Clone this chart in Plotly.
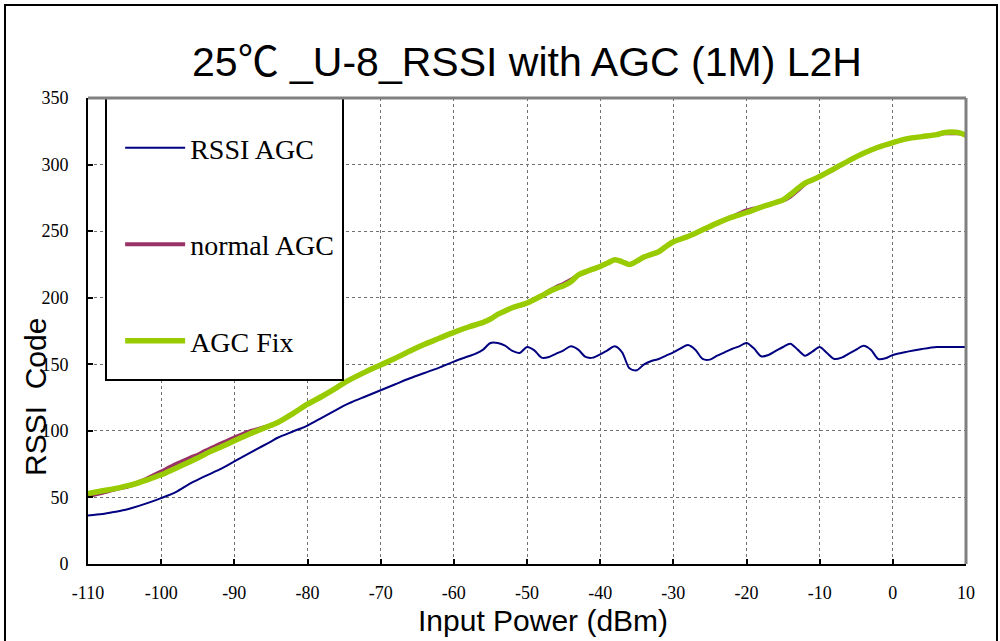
import plotly.graph_objects as go

# ---------------- data ----------------
rssi_x = [-110, -108, -106, -105, -104, -102, -100, -98, -96, -94, -92, -90, -88, -86, -85, -84, -82, -80,
          -78, -76, -75, -74, -72, -70, -68, -66, -64, -62, -60, -58, -57, -56, -55, -54, -53, -52, -51,
          -50, -49, -48, -47, -46, -45, -44, -43, -42, -41, -40, -39, -38, -37, -36, -35, -34, -33, -32,
          -31, -30, -29, -28, -27, -26, -25, -24, -23, -22, -21, -20, -19, -18, -17, -16, -15, -14, -13,
          -12, -11, -10, -9, -8, -7, -6, -5, -4, -3, -2, -1, 0, 2, 4, 6, 8, 10]
rssi_agc = [36.5, 37.5, 39.5, 40.5, 42, 45.5, 49.5, 54, 60.5, 66, 71, 77, 83, 89, 92, 95, 99.5, 104,
            110, 116, 119, 121.5, 126, 130.5, 135, 139.5, 143.5, 147.5, 152, 156, 158, 161, 166, 166, 164, 160, 158.5,
            163, 160.5, 155, 155.5, 158, 160.5, 163.5, 161, 155.5, 155, 157.5, 160.5, 163.5, 159, 147, 145.5, 150, 152.5, 154,
            156.5, 159, 162, 164.5, 161, 154, 153.5, 156.5, 159, 161.5, 163.5, 166, 162, 156, 157, 160, 163, 165.5, 161,
            156.5, 159.5, 163, 158.5, 154, 155, 158, 161, 164, 161, 154, 154.5, 157, 159.5, 161.5, 163, 163, 163]

agc_x = [-110, -108, -106, -105, -104, -102, -100, -98, -96, -95, -94, -92, -90, -88, -86, -84, -82, -80,
         -78, -76, -75, -74, -72, -70, -68, -66, -64, -62, -60, -58, -56, -55, -54, -53, -52, -50, -48, -47,
         -46, -45, -44, -43, -42, -41, -40, -39, -38, -37, -36, -35, -34, -33, -32, -31, -30, -28, -26, -24,
         -22, -20, -18, -16, -15, -14, -13, -12, -11, -10, -8, -6, -4, -2, 0, 2, 4, 6, 7, 8, 9, 10]
normal_agc = [51, 53.5, 56.5, 57.5, 59.5, 64, 69.5, 75, 80, 82, 85, 90, 95, 99.5, 102.5, 106.5, 113, 120,
              126, 132.5, 136, 139, 144.5, 149.5, 154.5, 160, 165, 169.5, 174, 178, 181.5, 184, 187.5, 190, 192.5, 196, 201.5, 205,
              208, 210.5, 213.5, 217, 219, 221.5, 223.5, 226, 228.5, 227, 225, 227.5, 230.5, 232.5, 234.5, 238.5, 242, 246, 251, 256,
              260.5, 265.5, 268, 271.5, 273, 276, 280.5, 285.5, 288.5, 291, 296.5, 303, 308.5, 313, 316.5, 319.5, 321, 322.5, 323.5, 323.5, 323.5, 322.5]
agc_fix = [53, 55, 57, 58.3, 59.5, 63, 67, 72, 77, 79.6, 82.5, 87.5, 92.5, 97.5, 102, 106.5, 113, 120,
           126, 132.5, 136, 139, 144.5, 149.5, 154.5, 160, 165, 169.5, 174, 178, 181.5, 184, 187.5, 190, 192.5, 196, 201.5, 204.5,
           207, 209, 212, 217, 219.5, 221.5, 223.5, 226, 228.5, 227, 225, 227.5, 230.5, 232.5, 234.5, 238.5, 242, 246, 251, 256,
           260.5, 264, 268, 271.5, 273.5, 277.5, 282, 286, 288.5, 291, 297, 303, 308.5, 313, 316.5, 319.5, 321, 322.5, 324, 324.5, 324, 322]

x_ticks = [-110, -100, -90, -80, -70, -60, -50, -40, -30, -20, -10, 0, 10]
x_tick_labels = ["-110", "-100", "-90", "-80", "-70", "-60", "-50", "-40", "-30", "-20", "-10", "0", "10"]
y_ticks = [0, 50, 100, 150, 200, 250, 300, 350]
y_tick_labels = ["0", "50", "100", "150", "200", "250", "300", "350"]

title_text = "25℃ _U-8_RSSI with AGC (1M) L2H"
x_title = "Input Power (dBm)"
y_title = "RSSI&#160;&#160;Code"

# ---------------- figure ----------------
SERIF = "Liberation Serif, Times New Roman, serif"
SANS = "Liberation Sans, Arial, Noto Sans CJK TC, sans-serif"

fig = go.Figure()
fig.add_trace(go.Scatter(x=rssi_x, y=rssi_agc, name="RSSI AGC", mode="lines",
                         line=dict(color="#000080", width=2, shape="spline", smoothing=0.8),
                         legendgroup="a"))
fig.add_trace(go.Scatter(x=agc_x, y=normal_agc, name="normal AGC", mode="lines",
                         line=dict(color="#993366", width=4, shape="spline", smoothing=0.8),
                         legendgroup="b"))
fig.add_trace(go.Scatter(x=agc_x, y=agc_fix, name="AGC Fix", mode="lines",
                         line=dict(color="#99CC00", width=5.5, shape="spline", smoothing=0.8),
                         legendgroup="c"))

axis_common = dict(
    showline=True, linecolor="black", linewidth=2,
    ticks="inside", ticklen=5, tickwidth=2, tickcolor="black",
    showgrid=True, gridcolor="#707070", gridwidth=1, griddash="dot",
    zeroline=False,
    tickfont=dict(family=SERIF, size=18, color="black"),
)

fig.update_layout(
    width=1000, height=641,
    margin=dict(l=88, r=34, t=98, b=77),
    paper_bgcolor="white", plot_bgcolor="white",
    title=dict(text=title_text, x=0.5, xref="paper", xanchor="center",
               y=1 - 62 / 641, yref="container", yanchor="middle",
               font=dict(family=SANS, size=41, color="black")),
    xaxis=dict(range=[-110, 10], tickvals=x_ticks, ticktext=x_tick_labels,
               ticklabelstandoff=11, **axis_common),
    yaxis=dict(range=[0, 350], tickvals=y_ticks, ticktext=y_tick_labels,
               ticklabelstandoff=14, **axis_common),
    legend=dict(x=0.0366, y=0.946, xanchor="left", yanchor="top",
                bgcolor="rgba(0,0,0,0)", borderwidth=0,
                font=dict(family=SERIF, size=28, color="black"),
                traceorder="grouped", tracegroupgap=57, itemwidth=60),
    showlegend=True,
)

# legend box (white, black border); no trace passes through this region
fig.add_shape(type="rect", xref="x domain", yref="y domain",
              x0=(106 - 88) / 878, x1=(343 - 88) / 878, y0=(564 - 380) / 466, y1=1.0,
              line=dict(color="black", width=2), fillcolor="white", layer="above")
# gray top and right borders of plot area
fig.add_shape(type="line", xref="x domain", yref="y domain", x0=0, x1=1, y0=1, y1=1,
              line=dict(color="#808080", width=3), layer="above")
fig.add_shape(type="line", xref="x domain", yref="y domain", x0=1, x1=1, y0=0, y1=1,
              line=dict(color="#808080", width=3), layer="above")
# outer frame of chart area
fig.add_shape(type="rect", xref="paper", yref="paper",
              x0=(5 - 88) / 878, x1=(997 - 88) / 878, y0=(564 - 660) / 466, y1=(564 - 5) / 466,
              line=dict(color="black", width=2), fillcolor="rgba(0,0,0,0)", layer="above")

# axis titles placed as in the reference
fig.add_annotation(text=y_title, xref="paper", yref="paper", x=(35 - 88) / 878, y=(564 - 397) / 466,
                   textangle=-90, showarrow=False, xanchor="center", yanchor="middle",
                   font=dict(family=SANS, size=30, color="black"))
fig.add_annotation(text=x_title, xref="paper", yref="paper", x=(543 - 88) / 878, y=(564 - 620) / 466,
                   showarrow=False, xanchor="center", yanchor="middle",
                   font=dict(family=SANS, size=30, color="black"))

fig.write_html("out.html", config={"displayModeBar": False},
               post_script="document.body.style.margin='0';document.body.style.overflow='hidden';")
